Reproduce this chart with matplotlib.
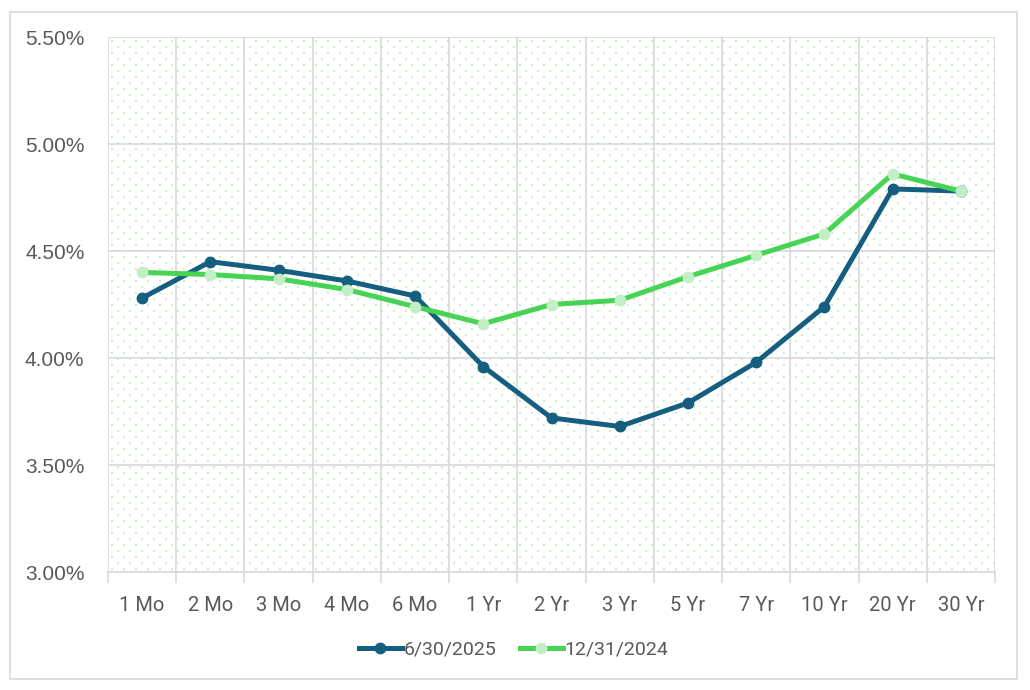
import numpy as np
import matplotlib
matplotlib.use("Agg")
import matplotlib.pyplot as plt
from matplotlib.patches import Rectangle
from matplotlib.ticker import FuncFormatter, FixedLocator

plt.rcParams['font.family'] = ['Roboto', 'DejaVu Sans']

# tenors on the x axis
tenors = ['1 Mo', '2 Mo', '3 Mo', '4 Mo', '6 Mo', '1 Yr', '2 Yr', '3 Yr',
          '5 Yr', '7 Yr', '10 Yr', '20 Yr', '30 Yr']

# yields in percent
yields_2025 = [4.28, 4.45, 4.41, 4.36, 4.29, 3.96, 3.72, 3.68, 3.79, 3.98, 4.24, 4.79, 4.78]
yields_2024 = [4.40, 4.39, 4.37, 4.32, 4.24, 4.16, 4.25, 4.27, 4.38, 4.48, 4.58, 4.86, 4.78]

label_2025 = '6/30/2025'
label_2024 = '12/31/2024'

DARK_BLUE = '#155E80'
GREEN = '#47D353'
LIGHT_GREEN = '#C2EFC6'
GRID = '#D9D9D9'
TEXT = '#595959'

fig = plt.figure(figsize=(10.3, 6.9), dpi=100)

# outer chart border
fig.patches.append(Rectangle((10 / 1030, 11 / 690), 1007 / 1030, 667 / 690,
                             transform=fig.transFigure, fill=False,
                             edgecolor=GRID, linewidth=1.2))

ax = fig.add_axes([108 / 1030, 118 / 690, 887 / 1030, 535 / 690])

# dotted background pattern (staggered grid of small dots)
bg = fig.add_axes(ax.get_position(), zorder=-1)
bg.set_xlim(0, 887)
bg.set_ylim(0, 535)
rows = np.arange(3, 535, 6)
pts_x, pts_y = [], []
for i, yy in enumerate(rows):
    off = 4 if i % 2 == 0 else 10
    xs = np.arange(off, 887, 12)
    pts_x.extend(xs)
    pts_y.extend([yy] * len(xs))
bg.scatter(pts_x, pts_y, s=1.0, color='#CDEFCD', linewidths=0, marker='s')
bg.axis('off')
ax.patch.set_alpha(0)

x = np.arange(len(tenors))
ax.plot(x, yields_2025, color=DARK_BLUE, linewidth=3.6, marker='o', markersize=7.5,
        markerfacecolor=DARK_BLUE, markeredgecolor=DARK_BLUE, label=label_2025, zorder=3)
ax.plot(x, yields_2024, color=GREEN, linewidth=3.6, marker='o', markersize=7.5,
        markerfacecolor=LIGHT_GREEN, markeredgecolor=LIGHT_GREEN, label=label_2024, zorder=4)

ax.set_xlim(-0.5, len(tenors) - 0.5)
ax.set_ylim(3.0, 5.5)
ax.set_yticks(np.arange(3.0, 5.51, 0.5))
ax.yaxis.set_major_formatter(FuncFormatter(lambda v, p: f'{v:.2f}%'))
for lab in ax.get_yticklabels():
    lab.set_fontfamily(['Liberation Sans', 'DejaVu Sans'])

ax.set_xticks(x)
ax.set_xticklabels(tenors)
ax.xaxis.set_minor_locator(FixedLocator(np.arange(-0.5, len(tenors), 1.0)))
ax.tick_params(axis='x', which='major', length=0, pad=17, labelsize=14.5, labelcolor=TEXT)
ax.tick_params(axis='x', which='minor', length=8, width=1.2, color=GRID)
ax.tick_params(axis='y', length=0, pad=17, labelsize=15, labelcolor=TEXT)

ax.grid(True, axis='y', which='major', color=GRID, linewidth=1.2)
ax.grid(True, axis='x', which='minor', color=GRID, linewidth=1.2)
ax.grid(False, axis='x', which='major')
ax.set_axisbelow(True)
for s in ax.spines.values():
    s.set_visible(False)
ax.spines['bottom'].set_visible(True)
ax.spines['bottom'].set_color(GRID)
ax.spines['bottom'].set_linewidth(1.2)

leg = ax.legend(loc='center', bbox_to_anchor=(0.4575, -0.145), ncol=2, frameon=False,
                fontsize=14, handlelength=2.2, handletextpad=0.1, columnspacing=1.2,
                borderaxespad=0, borderpad=0)
for t in leg.get_texts():
    t.set_color(TEXT)

fig.savefig('out.png', dpi=100, facecolor='white')
